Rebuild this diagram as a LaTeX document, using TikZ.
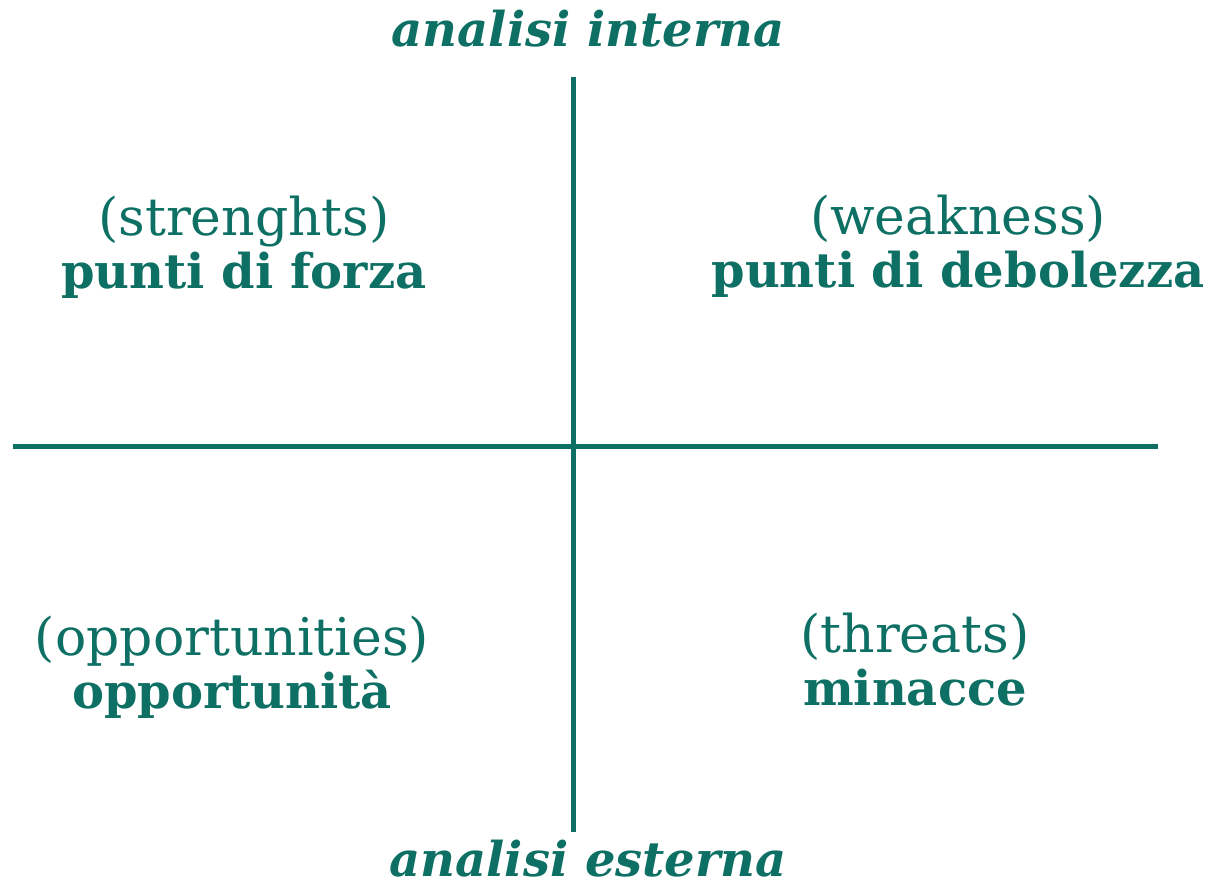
\documentclass[tikz,border=0pt]{standalone}
\usepackage{fontspec}
\setmainfont{DejaVu Serif}
\usetikzlibrary{positioning}
\definecolor{swotteal}{RGB}{14,112,100}
\tikzset{
  axisline/.style={
    draw=swotteal,
    line width = 5pt,
  },
  engname/.style={
    text=swotteal,
    inner sep=0pt,
    anchor=base,
    font=\fontsize{52}{56}\selectfont,
  },
  itaname/.style={
    text=swotteal,
    inner sep=0pt,
    font=\fontsize{48}{52}\selectfont\bfseries,
  },
  axisname/.style={
    text=swotteal,
    inner sep=0pt,
    anchor=base,
    font=\fontsize{48}{52}\selectfont\bfseries\itshape,
  },
}
\begin{document}
\begin{tikzpicture}[x=1pt, y=-1pt]
    \useasboundingbox (0,0) rectangle (1210,891);
    \coordinate (top) at (573,77);
    \coordinate (bottom) at (573,832);
    \coordinate (left) at (13,446);
    \coordinate (right) at (1158,446);
    \draw [axisline] (top) -- (bottom);
    \draw [axisline] (left) -- (right);
    \node (intern) [axisname] at (588,47) {analisi interna};
    \node (extern) [axisname] at (588,876) {analisi esterna};
    \node (s) [engname] at (244,235) {(strenghts)};
    \node (sit) [itaname, below = 53pt of s.base, anchor=base] {punti di forza};
    \node (w) [engname] at (958,234) {(weakness)};
    \node (wit) [itaname, below = 53pt of w.base, anchor=base] {punti di debolezza};
    \node (o) [engname] at (232,655) {(opportunities)};
    \node (oit) [itaname, below = 53pt of o.base, anchor=base] {opportunità};
    \node (t) [engname] at (915,652) {(threats)};
    \node (tit) [itaname, below = 53pt of t.base, anchor=base] {minacce};
\end{tikzpicture}
\end{document}
